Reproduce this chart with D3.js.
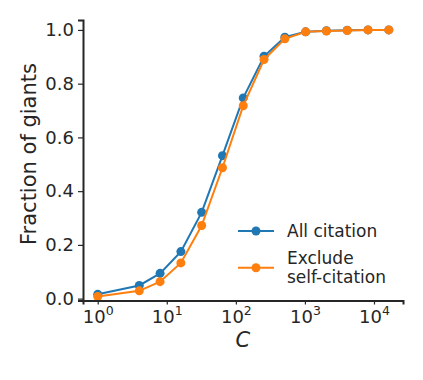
<!DOCTYPE html>
<html>
<head>
<meta charset="utf-8">
<script src="https://cdn.jsdelivr.net/npm/d3@7"></script>
<style>
  body { margin: 0; background: #fff; }
  text { font-family: "DejaVu Sans", sans-serif; fill: #262626; }
</style>
</head>
<body>
<div id="chart"></div>
<script>
// citation thresholds C (powers of two)
var thresholds = [1, 4, 8, 16, 32, 64, 128, 256, 512, 1024, 2048, 4096, 8192, 16384];
var allCitation = [0.016, 0.049, 0.094, 0.175, 0.321, 0.532, 0.747, 0.902, 0.973, 0.993, 0.997, 0.999, 1.0, 1.0];
var excludeSelf = [0.008, 0.029, 0.063, 0.133, 0.272, 0.487, 0.718, 0.890, 0.967, 0.993, 0.996, 0.998, 1.0, 1.0];
var xTicks = [1, 10, 100, 1000, 10000];
var yTicks = [0, 0.2, 0.4, 0.6, 0.8, 1.0];
var seriesNames = ["All citation", "Exclude\nself-citation"];
var seriesColors = ["#1f77b4", "#ff7f0e"];

var width = 423, height = 380;
var margin = { left: 83, right: 20, top: 20, bottom: 80 };

var svg = d3.select("#chart").append("svg")
    .attr("width", width)
    .attr("height", height);

var x = d3.scaleLog()
    .domain([Math.pow(10, -0.213), Math.pow(10, 4.42)])
    .range([margin.left, width - margin.right]);

var y = d3.scaleLinear()
    .domain([-0.007, 1.037])
    .range([height - margin.bottom + 0.5, margin.top]);

var series = [allCitation, excludeSelf];

// lines and markers
var line = d3.line()
    .x(function (d, i) { return x(thresholds[i]); })
    .y(function (d) { return y(d); });

series.forEach(function (vals, k) {
    var g = svg.append("g");
    g.append("path")
        .datum(vals)
        .attr("fill", "none")
        .attr("stroke", seriesColors[k])
        .attr("stroke-width", 2)
        .attr("d", line);
    g.selectAll("circle")
        .data(vals)
        .enter().append("circle")
        .attr("cx", function (d, i) { return x(thresholds[i]); })
        .attr("cy", function (d) { return y(d); })
        .attr("r", 4.5)
        .attr("fill", seriesColors[k]);
});

// axes
var yAxis = svg.append("g")
    .attr("transform", "translate(" + margin.left + ",0)")
    .call(d3.axisLeft(y).tickValues(yTicks).tickFormat(d3.format(".1f")).tickSizeOuter(0).tickSize(5).tickPadding(4));

var xAxis = svg.append("g")
    .attr("transform", "translate(0," + y.range()[0] + ")")
    .call(d3.axisBottom(x).tickValues(xTicks).tickFormat("").tickSizeOuter(0).tickSize(4));

[xAxis, yAxis].forEach(function (a) {
    a.select(".domain").attr("stroke", "#262626").attr("stroke-width", 2);
    a.selectAll(".tick line").attr("stroke", "#262626").attr("stroke-width", 1.2);
});
yAxis.selectAll(".tick text").style("font-size", "18px").style("fill", "#262626");

// x tick labels as 10^n
xAxis.selectAll(".tick").each(function (d) {
    var t = d3.select(this).append("text")
        .attr("y", 22)
        .attr("text-anchor", "middle")
        .style("font-size", "18px")
        .style("fill", "#262626");
    t.append("tspan").text("10");
    t.append("tspan")
        .attr("dy", -8)
        .style("font-size", "12.5px")
        .text(Math.round(Math.log10(d)));
});

// axis titles
svg.append("text")
    .attr("x", x(Math.pow(10, 2.1)))
    .attr("y", 347)
    .attr("text-anchor", "middle")
    .style("font-size", "21px")
    .style("font-style", "italic")
    .text("C");

svg.append("text")
    .attr("transform", "translate(36,154) rotate(-90)")
    .attr("text-anchor", "middle")
    .style("font-size", "21px")
    .text("Fraction of giants");

// legend
var legend = svg.append("g").attr("transform", "translate(238,231)");
seriesNames.forEach(function (name, k) {
    var row = legend.append("g").attr("transform", "translate(0," + (k * 36.7) + ")");
    row.append("line")
        .attr("x1", 0).attr("x2", 36)
        .attr("stroke", seriesColors[k])
        .attr("stroke-width", 2);
    row.append("circle")
        .attr("cx", 18).attr("r", 4.5)
        .attr("fill", seriesColors[k]);
    var lines = name.split("\n");
    var t = row.append("text")
        .attr("x", 49)
        .style("font-size", "17px");
    lines.forEach(function (s, j) {
        t.append("tspan")
            .attr("x", 49)
            .attr("y", 6 + (j - (lines.length - 1) / 2) * 19)
            .text(s);
    });
});
</script>
</body>
</html>
